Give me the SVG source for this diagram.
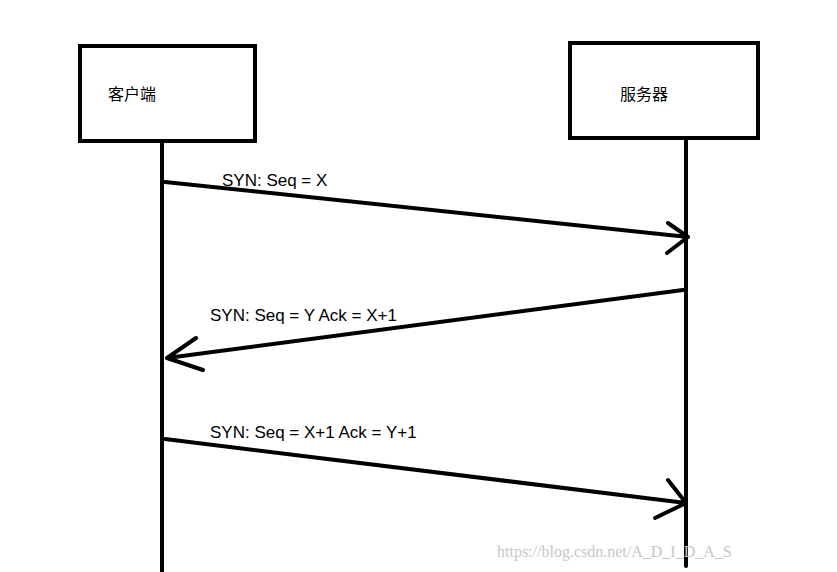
<svg xmlns="http://www.w3.org/2000/svg" width="837" height="572" viewBox="0 0 837 572">
<style>
.box{fill:#fff;stroke:#000;stroke-width:4}
.ln{stroke:#000;stroke-width:4;fill:none;stroke-linecap:round;stroke-linejoin:round}
.t{font-family:"Liberation Sans","Noto Sans",sans-serif;font-size:17px;fill:#000}
.c{font-family:"Noto Sans CJK SC",sans-serif;font-size:16px;fill:#000}
</style>
<rect width="837" height="572" fill="#fff"/>
<g id="lifelines">
<line class="ln" x1="162" y1="141" x2="162" y2="572" stroke-linecap="butt"/>
<line class="ln" x1="686" y1="138" x2="686" y2="566"/>
</g>
<g id="client"><rect class="box" x="80" y="46" width="175" height="95"/><text class="c" x="108" y="100">客户端</text></g>
<g id="server"><rect class="box" x="570" y="43" width="188" height="95"/><text class="c" x="620" y="100">服务器</text></g>
<g id="connectors">
<path class="ln" d="M165 182 L688 237 M668 223 L688 237 L667 253"/>
<path class="ln" d="M683 290 L167 358 M196 338 L167 358 L203 370"/>
<path class="ln" d="M165 439 L686 503 M668 480 L686 503 L655 518"/>
</g>
<g id="labels" xml:space="preserve">
<text class="t" x="222" y="186">SYN: Seq = X</text>
<text class="t" x="210" y="321">SYN:  Seq = Y  Ack = X+1</text>
<text class="t" x="210" y="438">SYN:  Seq = X+1    Ack = Y+1</text>
</g>
<text x="497" y="557" font-family="Liberation Serif,serif" font-size="16" fill="#c8c8c8">https://blog.csdn.net/A_D_I_D_A_S</text>
</svg>
